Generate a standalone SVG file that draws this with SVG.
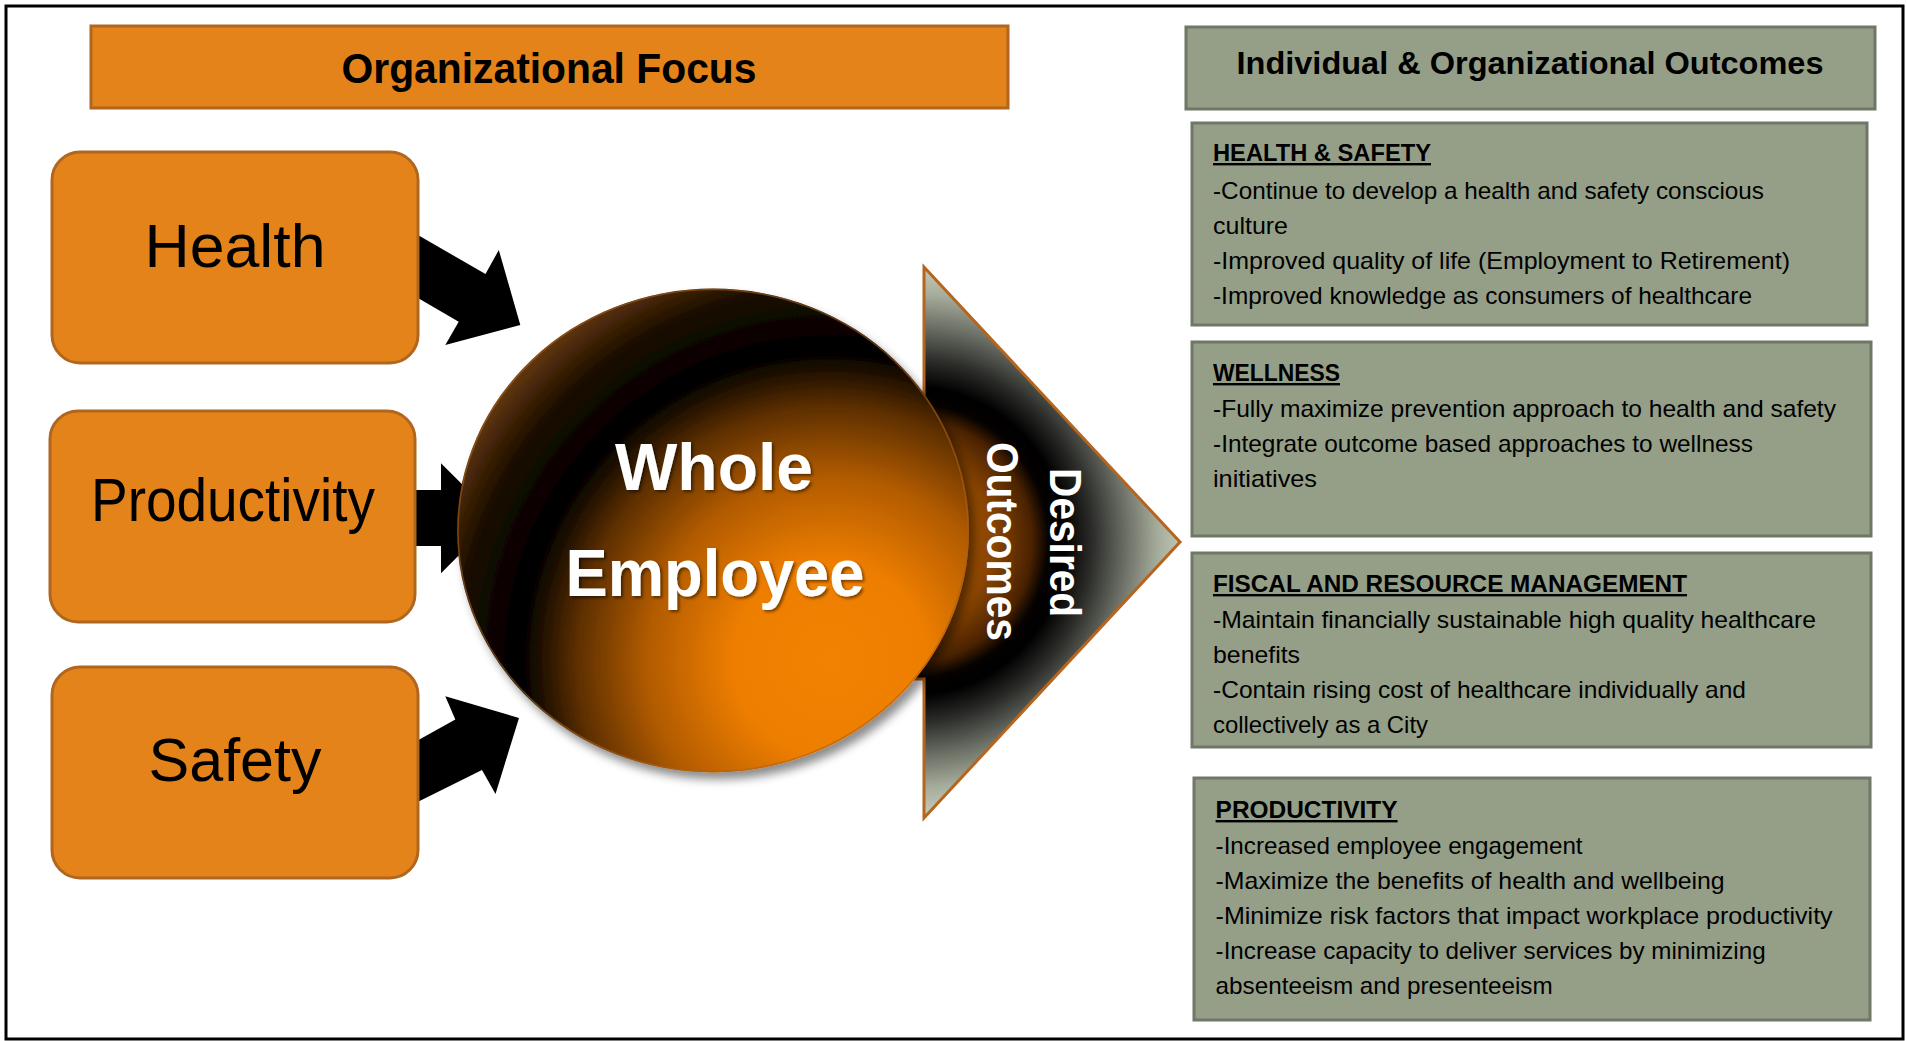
<svg xmlns="http://www.w3.org/2000/svg" width="1907" height="1041" viewBox="0 0 1907 1041">
  <defs>
    <style>
      .orange { fill: #E4831A; stroke: #B0661E; stroke-width: 3; }
      .sage { fill: #959F88; stroke: #6F7766; stroke-width: 3; }
      .lbl { font-family: "Liberation Sans", Arial, sans-serif; fill: #000; }
      .big { font-size: 62px; text-anchor: middle; }
      .title { font-family: "Liberation Sans", Arial, sans-serif; font-weight: bold; fill: #000; text-anchor: middle; }
      .hd { font-family: "Liberation Sans", Arial, sans-serif; font-weight: bold; font-size: 24px; text-decoration: underline; fill: #000; }
      .bd { font-family: "Liberation Sans", Arial, sans-serif; font-size: 24px; fill: #000; }
      .wh { font-family: "Liberation Sans", Arial, sans-serif; font-weight: bold; fill: #fff; text-anchor: middle; }
      .conn { fill: #000; }
    </style>
    <radialGradient id="sphereGrad" gradientUnits="userSpaceOnUse" cx="830" cy="660" r="440">
      <stop offset="0" stop-color="#F28200"/>
      <stop offset="0.22" stop-color="#EE7E00"/>
      <stop offset="0.42" stop-color="#B05A00"/>
      <stop offset="0.58" stop-color="#5A2E00"/>
      <stop offset="0.70" stop-color="#000000"/>
      <stop offset="0.84" stop-color="#170b00"/>
      <stop offset="1" stop-color="#7A4510"/>
    </radialGradient>
    <radialGradient id="arrowGrad" gradientUnits="userSpaceOnUse" cx="911" cy="541" r="275">
      <stop offset="0" stop-color="#B55C00"/>
      <stop offset="0.3" stop-color="#8A4500"/>
      <stop offset="0.44" stop-color="#4A2200"/>
      <stop offset="0.5" stop-color="#050200"/>
      <stop offset="0.56" stop-color="#000000"/>
      <stop offset="0.66" stop-color="#2C2D2A"/>
      <stop offset="0.78" stop-color="#6A6E64"/>
      <stop offset="0.9" stop-color="#A7AD9C"/>
      <stop offset="1" stop-color="#C6CBBA"/>
    </radialGradient>
    <filter id="sphereShadow" x="-10%" y="-10%" width="130%" height="130%">
      <feDropShadow dx="5" dy="7" stdDeviation="5" flood-color="#000" flood-opacity="0.45"/>
    </filter>
    <filter id="textShadow" x="-10%" y="-20%" width="130%" height="150%">
      <feDropShadow dx="2" dy="2" stdDeviation="1.5" flood-color="#000" flood-opacity="0.5"/>
    </filter>
  </defs>

  <rect x="0" y="0" width="1907" height="1041" fill="#fff"/>
  <rect id="frame" x="6" y="6" width="1897" height="1033" fill="#fff" stroke="#000" stroke-width="3"/>

  <!-- Desired outcomes arrow -->
  <g id="desired-outcomes-arrow">
    <polygon points="860,405 924,405 924,267 1180,542 924,818 924,679 860,679" fill="url(#arrowGrad)" stroke="#B5651D" stroke-width="3" stroke-linejoin="miter"/>
    <text class="wh" font-size="44" textLength="149" lengthAdjust="spacingAndGlyphs" transform="translate(1050,542.6) rotate(90)">Desired</text>
    <text class="wh" font-size="44" textLength="199" lengthAdjust="spacingAndGlyphs" transform="translate(987,541.4) rotate(90)">Outcomes</text>
  </g>

  <!-- connectors -->
  <g id="connectors">
    <polygon class="conn" points="408.8,229.8 485.5,274 498.8,250 520.3,325 445.3,345 458.7,321.7 405.5,290.8"/>
    <polygon class="conn" points="405,490 441,490 441,463.3 496,518 441,573.3 441,546 405,546"/>
    <polygon class="conn" points="405,747.5 455.3,719.4 445.3,696.2 519,718 495.5,794 482,770 405,808.3"/>
  </g>

  <!-- central sphere -->
  <g id="whole-employee">
    <ellipse cx="713" cy="530.5" rx="256" ry="242" fill="url(#sphereGrad)" filter="url(#sphereShadow)"/>
    <ellipse cx="713" cy="530.5" rx="255" ry="241" fill="none" stroke="#A8601A" stroke-width="1.5" stroke-opacity="0.6"/>
    <g filter="url(#textShadow)">
      <text class="wh" x="714" y="490" font-size="66" textLength="198" lengthAdjust="spacingAndGlyphs">Whole</text>
      <text class="wh" x="715" y="596" font-size="66" textLength="299" lengthAdjust="spacingAndGlyphs">Employee</text>
    </g>
  </g>

  <!-- left column -->
  <g id="organizational-focus">
    <rect class="orange" x="91" y="26" width="917" height="82"/>
    <text class="title" x="549" y="83" font-size="42" textLength="415" lengthAdjust="spacingAndGlyphs">Organizational Focus</text>
  </g>
  <g id="health">
    <rect class="orange" x="52" y="152" width="366" height="211" rx="28" ry="28"/>
    <text class="lbl big" x="235" y="267" font-size="63" textLength="181" lengthAdjust="spacingAndGlyphs">Health</text>
  </g>
  <g id="productivity">
    <rect class="orange" x="50" y="411" width="365" height="211" rx="28" ry="28"/>
    <text class="lbl big" x="233" y="521" font-size="52" textLength="284" lengthAdjust="spacingAndGlyphs">Productivity</text>
  </g>
  <g id="safety">
    <rect class="orange" x="52" y="667" width="366" height="211" rx="28" ry="28"/>
    <text class="lbl big" x="235" y="780.5" font-size="59" textLength="173" lengthAdjust="spacingAndGlyphs">Safety</text>
  </g>

  <!-- right column -->
  <g id="outcomes-header">
    <rect class="sage" x="1186" y="27" width="689" height="82"/>
    <text class="title" x="1530" y="74" font-size="31" textLength="587" lengthAdjust="spacingAndGlyphs">Individual &amp; Organizational Outcomes</text>
  </g>
  <g id="health-safety">
    <rect class="sage" x="1192" y="123" width="675" height="202"/>
    <text class="hd" x="1213" y="161" textLength="218" lengthAdjust="spacingAndGlyphs">HEALTH &amp; SAFETY</text>
    <text class="bd" x="1213" y="199" textLength="551" lengthAdjust="spacingAndGlyphs">-Continue to develop a health and safety conscious</text>
    <text class="bd" x="1213" y="234" textLength="75" lengthAdjust="spacingAndGlyphs">culture</text>
    <text class="bd" x="1213" y="269" textLength="577" lengthAdjust="spacingAndGlyphs">-Improved quality of life (Employment to Retirement)</text>
    <text class="bd" x="1213" y="304" textLength="539" lengthAdjust="spacingAndGlyphs">-Improved knowledge as consumers of healthcare</text>
  </g>
  <g id="wellness">
    <rect class="sage" x="1192" y="342" width="679" height="194"/>
    <text class="hd" x="1213" y="381" textLength="127" lengthAdjust="spacingAndGlyphs">WELLNESS</text>
    <text class="bd" x="1213" y="417" textLength="623" lengthAdjust="spacingAndGlyphs">-Fully maximize prevention approach to health and safety</text>
    <text class="bd" x="1213" y="452" textLength="540" lengthAdjust="spacingAndGlyphs">-Integrate outcome based approaches to wellness</text>
    <text class="bd" x="1213" y="487" textLength="104" lengthAdjust="spacingAndGlyphs">initiatives</text>
  </g>
  <g id="fiscal">
    <rect class="sage" x="1192" y="553" width="679" height="194"/>
    <text class="hd" x="1213" y="592" textLength="474" lengthAdjust="spacingAndGlyphs">FISCAL AND RESOURCE MANAGEMENT</text>
    <text class="bd" x="1213" y="628" textLength="603" lengthAdjust="spacingAndGlyphs">-Maintain financially sustainable high quality healthcare</text>
    <text class="bd" x="1213" y="663" textLength="87" lengthAdjust="spacingAndGlyphs">benefits</text>
    <text class="bd" x="1213" y="698" textLength="533" lengthAdjust="spacingAndGlyphs">-Contain rising cost of healthcare individually and</text>
    <text class="bd" x="1213" y="733" textLength="215" lengthAdjust="spacingAndGlyphs">collectively as a City</text>
  </g>
  <g id="productivity-outcomes">
    <rect class="sage" x="1194" y="778" width="676" height="242"/>
    <text class="hd" x="1215.6" y="818" textLength="182" lengthAdjust="spacingAndGlyphs">PRODUCTIVITY</text>
    <text class="bd" x="1215.6" y="854" textLength="367" lengthAdjust="spacingAndGlyphs">-Increased employee engagement</text>
    <text class="bd" x="1215.6" y="889" textLength="509" lengthAdjust="spacingAndGlyphs">-Maximize the benefits of health and wellbeing</text>
    <text class="bd" x="1215.6" y="924" textLength="617" lengthAdjust="spacingAndGlyphs">-Minimize risk factors that impact workplace productivity</text>
    <text class="bd" x="1215.6" y="959" textLength="550" lengthAdjust="spacingAndGlyphs">-Increase capacity to deliver services by minimizing</text>
    <text class="bd" x="1215.6" y="994" textLength="337" lengthAdjust="spacingAndGlyphs">absenteeism and presenteeism</text>
  </g>
</svg>
